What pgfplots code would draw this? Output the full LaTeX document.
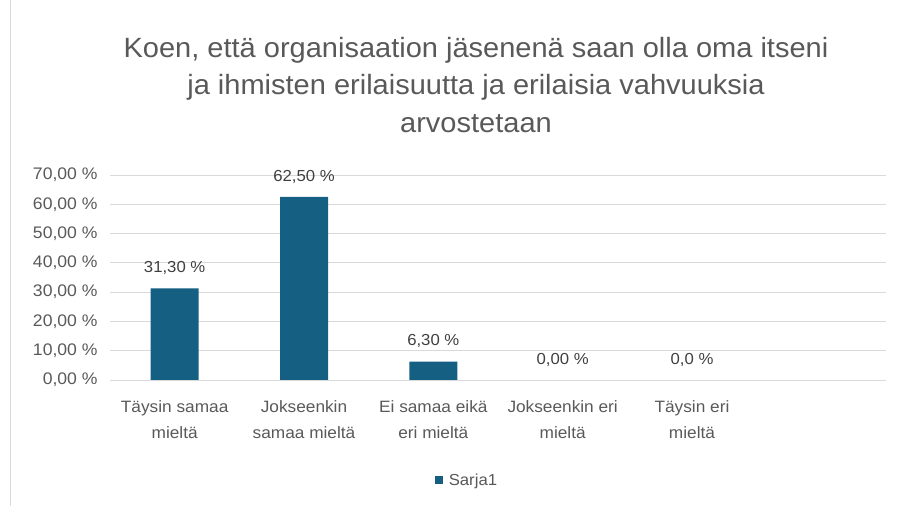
\documentclass[border=0pt]{standalone}
\usepackage{pgfplots}
\pgfplotsset{compat=1.18}
\usepackage{fontspec}
\setmainfont[FakeStretch=1.05]{Liberation Sans}
\newfontfamily\titlefont[FakeStretch=1.04]{Liberation Sans}
\definecolor{bar}{HTML}{156082}
\definecolor{tick}{HTML}{595959}
\definecolor{lab}{HTML}{404040}
\definecolor{gridc}{HTML}{D9D9D9}
\begin{document}
\begin{tikzpicture}
\path[use as bounding box] (0,0) rectangle (898bp,506bp);
\draw[gridc, line width=1bp] (10bp,0) -- (10bp,506bp);
\node[align=center, text=tick, font=\titlefont\fontsize{28}{38}\selectfont, anchor=center] at (476bp,421bp)
 {Koen, että organisaation jäsenenä saan olla oma itseni\\ja ihmisten erilaisuutta ja erilaisia vahvuuksia\\arvostetaan};
\begin{axis}[
  at={(110bp,126bp)}, anchor=origin,
  scale only axis, width=776bp, height=205bp,
  xmin=0, xmax=6, ymin=0, ymax=70,
  axis x line*=bottom, axis y line*=left,
  y axis line style={draw=none},
  x axis line style={gridc, line width=1bp, -},
  ymajorgrids, grid style={gridc, line width=1bp},
  ytick={0,10,...,70},
  yticklabels={{0,00 \%},{10,00 \%},{20,00 \%},{30,00 \%},{40,00 \%},{50,00 \%},{60,00 \%},{70,00 \%}},
  ytick style={draw=none},
  yticklabel style={font=\fontsize{16.8}{18}\selectfont, text=tick, xshift=-9bp},
  xtick={0.5,1.5,2.5,3.5,4.5},
  xticklabels={{Täysin samaa\\mieltä}, {Jokseenkin\\samaa mieltä}, {Ei samaa eikä\\eri mieltä}, {Jokseenkin eri\\mieltä}, {Täysin eri\\mieltä}},
  xticklabel style={font=\fontsize{16.5}{26}\selectfont, text=tick, align=center, yshift=-17bp},
  major x tick style={draw=none},
  extra x ticks={0,1,2,3,4,5,6},
  extra x tick labels={},
  extra x tick style={major tick length=6bp, tick align=outside, tick style={draw=gridc, line width=1bp}},
  /pgf/number format/assume math mode=true,
  legend style={at={(0.46,-0.49)}, anchor=center, draw=none, font=\fontsize{16}{18}\selectfont, text=tick, legend cell align=left},
  legend image code/.code={\fill[bar] (0bp,-4bp) rectangle (8bp,4bp);},
]
\addplot[ybar, bar width=48bp, fill=bar, draw=none,
  point meta=explicit symbolic,
  nodes near coords, nodes near coords style={font=\fontsize{16}{18}\selectfont, text=lab, anchor=south, yshift=10bp}]
  coordinates {(0.5,31.3)[31,30 \%] (1.5,62.5)[62,50 \%] (2.5,6.3)[6,30 \%] (3.5,0)[0,00 \%] (4.5,0)[0,0 \%]};
\addlegendentry{\hspace{4bp}Sarja1}
\end{axis}
\end{tikzpicture}
\end{document}
